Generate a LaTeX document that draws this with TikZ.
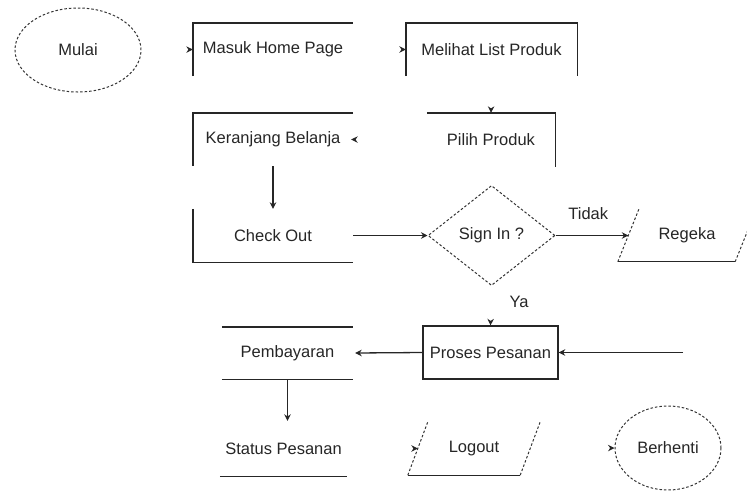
\documentclass[tikz,border=0pt]{standalone}
\usepackage{fontspec}
\setmainfont{Liberation Sans}
\usetikzlibrary{arrows.meta,shapes.geometric,calc}
\begin{document}
\begin{tikzpicture}[x=1pt,y=-1pt,
  every node/.style={font=\fontsize{16.5}{20}\selectfont, text=black!85, inner sep=0pt},
  procbox/.style={rectangle},
  termnode/.style={ellipse, draw=black!80, line width=1pt, dash pattern=on 2.5pt off 2pt},
  decision/.style={diamond, draw=black!80, line width=1pt, dash pattern=on 2.5pt off 2pt},
  bline/.style={line width=1.4pt, draw=black!85},
  dline/.style={line width=1pt, draw=black!80, dash pattern=on 2.5pt off 2pt},
  arr/.style={line width=1.3pt, draw=black!85, -{Stealth[length=6.5pt,width=6.5pt]}},
  hidden/.style={draw=white, line width=1pt, -{Stealth[length=6.5pt,width=6.5pt,black!85]}},
]
\useasboundingbox (0,0) rectangle (747,491);

% nodes
\node[termnode, minimum width=126pt, minimum height=84pt] (start) at (78,50) {Mulai};
\node[procbox, minimum width=160pt, minimum height=53pt] (home) at (273,49.5) {Masuk Home Page};
\node[procbox, minimum width=171pt, minimum height=53pt] (list) at (491.5,49.5) {Melihat List Produk};
\node[procbox, minimum width=128pt, minimum height=54pt] (pick) at (491,140) {Pilih Produk};
\node[procbox, minimum width=160pt, minimum height=53pt] (cart) at (273,139.5) {Keranjang Belanja};
\node[procbox, minimum width=160pt, minimum height=53pt] (checkout) at (273,235.5) {Check Out};
\node[decision, minimum width=127pt, minimum height=100pt] (signin) at (491.5,235.5) {Sign In ?};
\node[procbox, minimum width=138pt, minimum height=52pt] (reg) at (687,235.5) {Regeka};
\node[procbox, draw=black!85, line width=1.4pt, minimum width=135pt, minimum height=53pt] (order) at (490.5,352.5) {Proses Pesanan};
\node[procbox, minimum width=131pt, minimum height=52pt] (pay) at (287.5,353) {Pembayaran};
\node[procbox, minimum width=127pt, minimum height=55pt] (status) at (283.5,448.5) {Status Pesanan};
\node[procbox, minimum width=132pt, minimum height=53pt] (logout) at (474,448.5) {Logout};
\node[termnode, minimum width=106pt, minimum height=84pt] (stop) at (668,448) {Berhenti};

% connectors whose shafts are not drawn
\coordinate (login) at ($(logout.west)+(10,0)$);
\draw[hidden] (start.east) -- (home.west);
\draw[hidden] (home.east) -- (list.west);
\draw[hidden] (list.south) -- (pick.north);
\draw[hidden] (pick.west) -- ([xshift=-2pt]cart.east);
\draw[hidden] (signin.south) -- (order.north) node[pos=0.4, right=18pt] (ya) {Ya};
\draw[hidden] (status.east) -- (login);
\draw[hidden] (logout.east) -- (stop.west);

% partial box outlines
\draw[bline] (home.south west) -- (home.north west) -- (home.north east);
\draw[bline] (list.south west) -- (list.north west) -- (list.north east) -- (list.south east);
\draw[bline] (pick.north west) -- (pick.north east) -- (pick.south east);
\draw[bline] (cart.north east) -- (cart.north west) -- (cart.south west);
\draw[bline] (checkout.north west) -- (checkout.south west) -- (checkout.south east);
\draw[bline] (pay.north west) -- (pay.north east);
\draw[bline] (pay.south west) -- (pay.south east);
\draw[bline] (status.south west) -- (status.south east);

% parallelograms
\draw[dline] (reg.south west) -- ($(reg.north west)+(21,0)$);
\draw[bline] (reg.south west) -- ($(reg.south east)+(-21,0)$);
\draw[dline] ($(reg.south east)+(-21,0)$) -- (reg.north east);
\draw[dline] (logout.south west) -- ($(logout.north west)+(20,0)$);
\draw[bline] (logout.south west) -- ($(logout.south east)+(-20,0)$);
\draw[dline] ($(logout.south east)+(-20,0)$) -- (logout.north east);

% visible connectors
\coordinate (regin) at ($(reg.west)+(10.5,0)$);
\coordinate (feed) at (683,352.5);
\draw[arr] (cart.south) -- (checkout.north);
\draw[arr] (checkout.east) -- (signin.west);
\draw[arr] (signin.east) -- (regin) node[pos=0.45, above=15pt] (tidak) {Tidak};
\draw[arr] (feed) -- (order.east);
\draw[arr] (order.west) -- ([xshift=2pt]pay.east);
\draw[arr] (pay.south) -- (pay.south |- status.north);
\end{tikzpicture}
\end{document}
